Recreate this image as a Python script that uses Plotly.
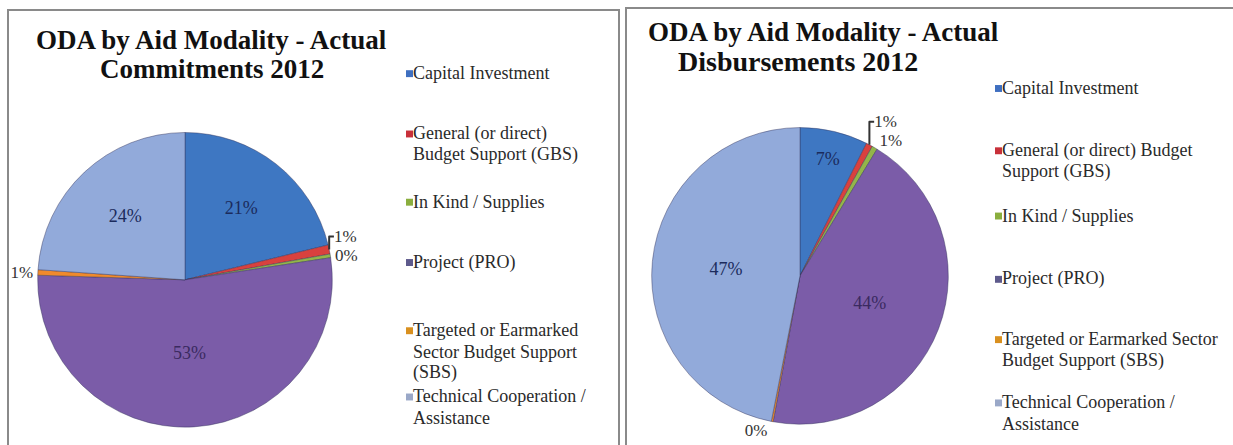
import plotly.graph_objects as go

W, H = 1233, 445

categories = [
    "Capital Investment",
    "General (or direct) Budget Support (GBS)",
    "In Kind / Supplies",
    "Project (PRO)",
    "Targeted or Earmarked Sector Budget Support (SBS)",
    "Technical Cooperation / Assistance",
]
commitments_pct = [21.2, 1.0, 0.4, 52.9, 0.6, 23.9]
disbursements_pct = [7.4, 0.7, 0.6, 44.2, 0.2, 46.9]

left_title = ["ODA by Aid Modality - Actual", "Commitments 2012"]
right_title = ["ODA by Aid Modality - Actual", "Disbursements 2012"]

left_legend_lines = [
    ["Capital Investment"],
    ["General (or direct)", "Budget Support (GBS)"],
    ["In Kind / Supplies"],
    ["Project (PRO)"],
    ["Targeted or Earmarked", "Sector Budget Support", "(SBS)"],
    ["Technical Cooperation /", "Assistance"],
]
right_legend_lines = [
    ["Capital Investment"],
    ["General (or direct) Budget", "Support (GBS)"],
    ["In Kind / Supplies"],
    ["Project (PRO)"],
    ["Targeted or Earmarked Sector", "Budget Support (SBS)"],
    ["Technical Cooperation /", "Assistance"],
]

colors = ["#3E77C2", "#D9413E", "#93B54A", "#7B5CA8", "#F08A2C", "#92AADA"]
legend_colors = ["#3F6FC0", "#C8303A", "#8AAE3E", "#5E5A8C", "#D9901F", "#9AA8C8"]

SERIF = "Liberation Serif, Times New Roman, serif"


def px_x(x):
    return x / W


def px_y(y):
    return 1 - y / H


def pie_positions(values):
    return ["inside" if v >= 3 else "outside" for v in values]


fig = go.Figure()

inside_colors = ["#1B2B5C", "#1B2B5C", "#1B2B5C", "#3A2A60", "#1B2B5C", "#1B2B5C"]

for vals, dom in [
    (commitments_pct, dict(x=[px_x(36), px_x(334)], y=[px_y(432), px_y(134)])),
    (disbursements_pct, dict(x=[px_x(650), px_x(950)], y=[px_y(429), px_y(129)])),
]:
    fig.add_trace(
        go.Pie(
            labels=categories,
            values=vals,
            sort=False,
            direction="clockwise",
            rotation=0,
            domain=dom,
            marker=dict(colors=colors, line=dict(color="rgba(50,50,90,0.55)", width=0.8)),
            texttemplate="%{percent:.0%}",
            textposition=pie_positions(vals),
            insidetextorientation="horizontal",
            insidetextfont=dict(family=SERIF, size=18, color=inside_colors),
            outsidetextfont=dict(family=SERIF, size=17, color="#333333"),
            showlegend=False,
            hoverinfo="label+percent",
        )
    )

annotations = []
# titles
for lines, xs, ys, sizes in [
    (left_title, [211, 212], [40, 70], [27, 27]),
    (right_title, [823, 798], [32, 62], [27, 28]),
]:
    for t, x, y, s in zip(lines, xs, ys, sizes):
        annotations.append(
            dict(
                text="<b>%s</b>" % t,
                x=px_x(x), y=px_y(y), xref="paper", yref="paper",
                xanchor="center", yanchor="middle", showarrow=False,
                font=dict(family=SERIF, size=s, color="#111111"),
            )
        )

shapes = []
# panel borders
shapes.append(dict(type="rect", xref="paper", yref="paper",
                   x0=px_x(8), x1=px_x(619), y0=px_y(460), y1=px_y(10),
                   line=dict(color="#8A8A8A", width=2), fillcolor="rgba(0,0,0,0)"))
shapes.append(dict(type="rect", xref="paper", yref="paper",
                   x0=px_x(626), x1=px_x(1250), y0=px_y(460), y1=px_y(8),
                   line=dict(color="#8A8A8A", width=2), fillcolor="rgba(0,0,0,0)"))

LH = 21.5
left_first_lines = [74, 135, 204, 265, 334, 401]
right_first_lines = [89, 152, 218, 282, 343, 407]
for items, firsts, sq_x, tx_x in [
    (left_legend_lines, left_first_lines, 406, 411),
    (right_legend_lines, right_first_lines, 995, 1000),
]:
    for lines, y1, c in zip(items, firsts, legend_colors):
        for k, line in enumerate(lines):
            annotations.append(
                dict(
                    text=line, x=px_x(tx_x), y=px_y(y1 + k * LH), xref="paper", yref="paper",
                    xanchor="left", yanchor="middle", align="left", showarrow=False,
                    font=dict(family=SERIF, size=18, color="#2A2A2A"),
                )
            )
        shapes.append(dict(type="rect", xref="paper", yref="paper",
                           x0=px_x(sq_x), x1=px_x(sq_x + 7),
                           y0=px_y(y1 + 4), y1=px_y(y1 - 3),
                           line=dict(width=0), fillcolor=c))

fig.update_layout(
    width=W, height=H,
    margin=dict(l=0, r=0, t=0, b=0),
    paper_bgcolor="white", plot_bgcolor="white",
    annotations=annotations, shapes=shapes,
)

fig.write_html(
    "out.html",
    config={"displayModeBar": False},
    post_script="document.body.style.margin='0';",
)
